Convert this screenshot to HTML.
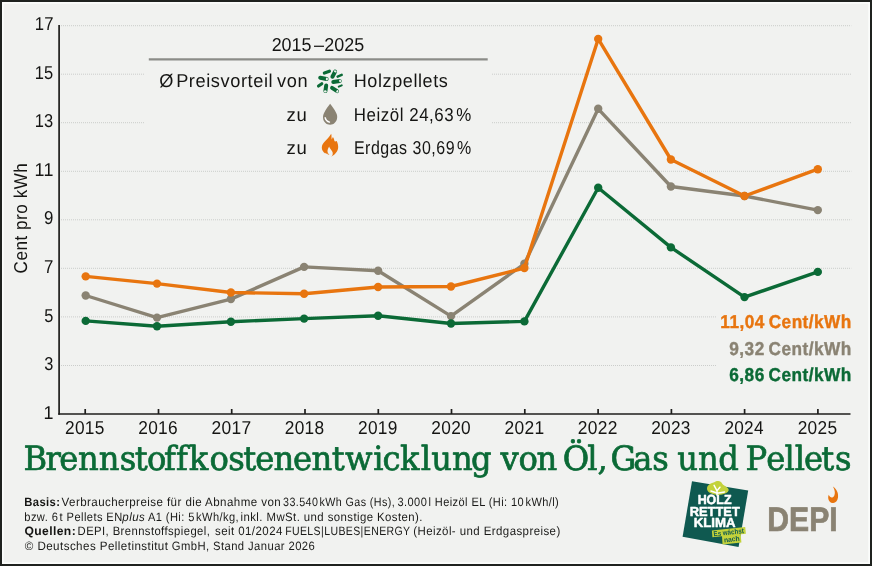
<!DOCTYPE html>
<html lang="de">
<head>
<meta charset="utf-8">
<title>Brennstoffkostenentwicklung von Öl, Gas und Pellets</title>
<style>
html,body{margin:0;padding:0;background:#f1f2f0;}
body{width:872px;height:566px;overflow:hidden;font-family:"Liberation Sans",sans-serif;}
svg{display:block;}
</style>
</head>
<body>
<svg width="872" height="566" viewBox="0 0 872 566" text-rendering="geometricPrecision">
<rect x="0" y="0" width="872" height="566" fill="#1f221f"/>
<rect x="2" y="2" width="868" height="562" fill="#fbfcfb"/>
<rect x="3.8" y="3.8" width="864.4" height="558.4" fill="#f1f2f0"/>
<line x1="61" y1="25.7" x2="851.3" y2="25.7" stroke="#cbcdcb" stroke-width="1" stroke-dasharray="1 1"/>
<line x1="61" y1="74.2" x2="144" y2="74.2" stroke="#cbcdcb" stroke-width="1" stroke-dasharray="1 1"/>
<line x1="492" y1="74.2" x2="851.3" y2="74.2" stroke="#cbcdcb" stroke-width="1" stroke-dasharray="1 1"/>
<line x1="61" y1="122.7" x2="144" y2="122.7" stroke="#cbcdcb" stroke-width="1" stroke-dasharray="1 1"/>
<line x1="492" y1="122.7" x2="851.3" y2="122.7" stroke="#cbcdcb" stroke-width="1" stroke-dasharray="1 1"/>
<line x1="61" y1="171.3" x2="851.3" y2="171.3" stroke="#cbcdcb" stroke-width="1" stroke-dasharray="1 1"/>
<line x1="61" y1="219.8" x2="851.3" y2="219.8" stroke="#cbcdcb" stroke-width="1" stroke-dasharray="1 1"/>
<line x1="61" y1="268.3" x2="851.3" y2="268.3" stroke="#cbcdcb" stroke-width="1" stroke-dasharray="1 1"/>
<line x1="61" y1="316.9" x2="716" y2="316.9" stroke="#cbcdcb" stroke-width="1" stroke-dasharray="1 1"/>
<line x1="61" y1="365.5" x2="716" y2="365.5" stroke="#cbcdcb" stroke-width="1" stroke-dasharray="1 1"/>
<line x1="59.1" y1="25" x2="59.1" y2="414.7" stroke="#1e1e1c" stroke-width="1.7"/>
<line x1="58.25" y1="414.0" x2="850.5" y2="414.0" stroke="#1e1e1c" stroke-width="1.5"/>
<line x1="85.2" y1="409.0" x2="85.2" y2="414" stroke="#1e1e1c" stroke-width="1.7"/>
<line x1="158.5" y1="409.0" x2="158.5" y2="414" stroke="#1e1e1c" stroke-width="1.7"/>
<line x1="231.7" y1="409.0" x2="231.7" y2="414" stroke="#1e1e1c" stroke-width="1.7"/>
<line x1="305.0" y1="409.0" x2="305.0" y2="414" stroke="#1e1e1c" stroke-width="1.7"/>
<line x1="378.3" y1="409.0" x2="378.3" y2="414" stroke="#1e1e1c" stroke-width="1.7"/>
<line x1="451.5" y1="409.0" x2="451.5" y2="414" stroke="#1e1e1c" stroke-width="1.7"/>
<line x1="524.8" y1="409.0" x2="524.8" y2="414" stroke="#1e1e1c" stroke-width="1.7"/>
<line x1="598.1" y1="409.0" x2="598.1" y2="414" stroke="#1e1e1c" stroke-width="1.7"/>
<line x1="671.4" y1="409.0" x2="671.4" y2="414" stroke="#1e1e1c" stroke-width="1.7"/>
<line x1="744.6" y1="409.0" x2="744.6" y2="414" stroke="#1e1e1c" stroke-width="1.7"/>
<line x1="817.9" y1="409.0" x2="817.9" y2="414" stroke="#1e1e1c" stroke-width="1.7"/>
<polyline points="85.7,295.5 157.0,317.6 230.9,299.1 304.1,266.9 378.1,270.7 451.0,316.1 524.4,263.8 598.2,108.8 670.9,186.5 744.5,196.0 817.8,210.1" fill="none" stroke="#8a8373" stroke-width="3.4" stroke-linejoin="round" stroke-linecap="round"/>
<circle cx="85.7" cy="295.5" r="4.2" fill="#8a8373"/><circle cx="157.0" cy="317.6" r="4.2" fill="#8a8373"/><circle cx="230.9" cy="299.1" r="4.2" fill="#8a8373"/><circle cx="304.1" cy="266.9" r="4.2" fill="#8a8373"/><circle cx="378.1" cy="270.7" r="4.2" fill="#8a8373"/><circle cx="451.0" cy="316.1" r="4.2" fill="#8a8373"/><circle cx="524.4" cy="263.8" r="4.2" fill="#8a8373"/><circle cx="598.2" cy="108.8" r="4.2" fill="#8a8373"/><circle cx="670.9" cy="186.5" r="4.2" fill="#8a8373"/><circle cx="744.5" cy="196.0" r="4.2" fill="#8a8373"/><circle cx="817.8" cy="210.1" r="4.2" fill="#8a8373"/>

<polyline points="85.7,320.9 157.0,326.3 230.9,321.7 304.1,318.6 378.1,315.7 451.0,323.5 524.4,321.4 598.2,187.7 670.9,247.4 744.5,297.1 817.8,271.9" fill="none" stroke="#0b6a36" stroke-width="3.4" stroke-linejoin="round" stroke-linecap="round"/>
<circle cx="85.7" cy="320.9" r="4.2" fill="#0b6a36"/><circle cx="157.0" cy="326.3" r="4.2" fill="#0b6a36"/><circle cx="230.9" cy="321.7" r="4.2" fill="#0b6a36"/><circle cx="304.1" cy="318.6" r="4.2" fill="#0b6a36"/><circle cx="378.1" cy="315.7" r="4.2" fill="#0b6a36"/><circle cx="451.0" cy="323.5" r="4.2" fill="#0b6a36"/><circle cx="524.4" cy="321.4" r="4.2" fill="#0b6a36"/><circle cx="598.2" cy="187.7" r="4.2" fill="#0b6a36"/><circle cx="670.9" cy="247.4" r="4.2" fill="#0b6a36"/><circle cx="744.5" cy="297.1" r="4.2" fill="#0b6a36"/><circle cx="817.8" cy="271.9" r="4.2" fill="#0b6a36"/>

<polyline points="85.7,276.4 157.0,283.6 230.9,292.5 304.1,293.8 378.1,287.0 451.0,286.5 524.4,268.0 598.2,38.9 670.9,159.5 744.5,196.0 817.8,169.2" fill="none" stroke="#e8750f" stroke-width="3.4" stroke-linejoin="round" stroke-linecap="round"/>
<circle cx="85.7" cy="276.4" r="4.2" fill="#e8750f"/><circle cx="157.0" cy="283.6" r="4.2" fill="#e8750f"/><circle cx="230.9" cy="292.5" r="4.2" fill="#e8750f"/><circle cx="304.1" cy="293.8" r="4.2" fill="#e8750f"/><circle cx="378.1" cy="287.0" r="4.2" fill="#e8750f"/><circle cx="451.0" cy="286.5" r="4.2" fill="#e8750f"/><circle cx="524.4" cy="268.0" r="4.2" fill="#e8750f"/><circle cx="598.2" cy="38.9" r="4.2" fill="#e8750f"/><circle cx="670.9" cy="159.5" r="4.2" fill="#e8750f"/><circle cx="744.5" cy="196.0" r="4.2" fill="#e8750f"/><circle cx="817.8" cy="169.2" r="4.2" fill="#e8750f"/>

<line x1="148.8" y1="59.4" x2="487.7" y2="59.4" stroke="#8b8c88" stroke-width="2.2"/>
<g>
<line x1="324.4" y1="73.0" x2="329.4" y2="71.3" stroke="#0b6a36" stroke-width="3.3" stroke-linecap="round"/>
<line x1="332.4" y1="76.7" x2="335.1" y2="71.6" stroke="#0b6a36" stroke-width="4.0" stroke-linecap="round"/><ellipse cx="335.24" cy="71.33" rx="1.04" ry="1.44" transform="rotate(-62.1 335.24 71.33)" fill="#eef3ee"/>
<line x1="337.6" y1="76.6" x2="341.7" y2="74.9" stroke="#0b6a36" stroke-width="2.5" stroke-linecap="round"/>
<line x1="320.2" y1="77.7" x2="326.6" y2="79.0" stroke="#0b6a36" stroke-width="4.0" stroke-linecap="round"/><ellipse cx="326.89" cy="79.06" rx="1.04" ry="1.44" transform="rotate(11.5 326.89 79.06)" fill="#eef3ee"/>
<line x1="333.2" y1="82.0" x2="339.8" y2="81.0" stroke="#0b6a36" stroke-width="3.8" stroke-linecap="round"/><ellipse cx="340.10" cy="80.96" rx="0.99" ry="1.37" transform="rotate(-8.6 340.10 80.96)" fill="#eef3ee"/>
<line x1="318.5" y1="86.0" x2="321.8" y2="83.7" stroke="#0b6a36" stroke-width="3.1" stroke-linecap="round"/>
<line x1="326.2" y1="85.5" x2="325.4" y2="91.1" stroke="#0b6a36" stroke-width="4.0" stroke-linecap="round"/><ellipse cx="325.36" cy="91.40" rx="1.04" ry="1.44" transform="rotate(98.1 325.36 91.40)" fill="#eef3ee"/>
<line x1="332.0" y1="87.8" x2="337.1" y2="91.2" stroke="#0b6a36" stroke-width="3.8" stroke-linecap="round"/><ellipse cx="337.35" cy="91.37" rx="0.99" ry="1.37" transform="rotate(33.7 337.35 91.37)" fill="#eef3ee"/>
<line x1="338.8" y1="86.6" x2="341.7" y2="85.4" stroke="#0b6a36" stroke-width="2.1" stroke-linecap="round"/>
</g>
<path d="M 330.11 103.82 C 331.64 105.63 334.46 109.31 336.33 113.26 C 337.18 114.96 337.35 116.65 337.12 117.90 C 336.61 121.86 333.79 124.63 330.11 124.63 C 326.44 124.63 323.38 121.86 323.04 117.90 C 322.88 116.20 323.33 114.51 324.18 112.81 C 325.98 109.31 328.70 105.63 330.11 103.82 Z" fill="#8a8373"/>
<path d="M 325.19 117.79 C 325.64 119.82 327.34 121.52 329.49 122.14" fill="none" stroke="#ffffff" stroke-width="1.4" stroke-linecap="round"/>
<path d="M 331.17 133.76 C 331.77 135.50 331.29 137.60 331.77 139.40 C 332.07 138.56 332.43 137.72 332.91 136.88 C 333.93 138.32 334.29 139.70 334.53 141.33 C 335.25 141.57 335.97 141.45 336.69 141.09 C 337.83 143.49 338.43 146.01 338.13 148.11 C 337.77 151.41 335.01 154.83 331.29 156.69 C 332.85 155.13 333.21 153.21 332.25 151.41 C 331.29 149.73 329.73 148.71 329.13 146.61 C 328.17 148.71 326.97 150.51 327.69 152.49 C 328.05 153.33 328.65 154.05 329.49 154.83 L 327.81 154.47 L 327.27 153.45 L 326.48 153.99 L 326.00 152.67 L 325.22 153.51 C 323.00 152.01 321.74 149.91 321.80 147.51 C 321.86 145.53 322.88 143.73 324.32 142.11 C 326.30 139.70 329.61 137.00 331.17 133.76 Z" fill="#e8750f"/>
<polygon points="692,481.3 748.2,490.6 738.6,546.9 682.6,536.8" fill="#0f5950"/>
<path d="M 707.00 488.72 C 707.00 487.03 707.63 485.97 708.69 484.99 C 710.18 483.63 712.30 482.79 714.21 482.28 C 715.69 481.30 716.96 481.00 718.32 481.09 C 719.93 481.17 721.42 482.15 722.26 483.63 C 723.11 485.12 725.23 485.84 727.14 487.45 C 728.41 488.51 729.05 489.57 728.50 490.84 C 727.78 492.54 725.45 493.60 722.05 494.58 C 719.93 495.08 716.96 495.08 714.21 494.49 C 711.24 493.81 708.48 492.54 707.63 490.84 C 707.21 489.99 707.00 489.36 707.00 488.72 Z" fill="#c3d23b"/>
<path d="M 716.96 495.08 L 717.05 490.21 M 717.05 490.84 L 714.08 485.41 M 717.13 490.63 L 719.93 487.20 M 716.88 493.05 L 710.94 491.01 M 717.13 493.30 L 724.51 491.95" fill="none" stroke="#ffffff" stroke-width="1.5" stroke-linecap="round"/>
<polygon points="711.9,530.6 745.2,527.0 745.9,533.8 712.4,537.3" fill="#c3d23b"/>
<polygon points="722,535.8 740.6,533.8 741.4,542.4 722.5,544.4" fill="#c3d23b"/>
<path d="M832.9 486.5 C 836.8 489.0, 838.6 493.4, 838.0 497.4 C 837.5 500.6, 835.6 502.8, 833.2 503.0 C 830.4 503.2, 828.4 501.0, 828.2 498.0 C 828.1 496.8, 828.3 495.8, 828.8 494.8 C 829.6 496.8, 831.0 497.8, 832.4 497.4 C 834.2 496.8, 835.0 494.6, 834.8 492.0 C 834.6 490.0, 833.8 488.0, 832.9 486.5 Z" fill="#e8750f"/>
<text transform="translate(0 470.2) scale(0.965 1)" x="24.35 47.07 61.52 80.83 102.29 124.20 139.71 152.41 170.07 182.35 195.67 217.08 236.48 252.05 264.48 283.32 303.60 322.80 343.76 357.59 386.71 396.32 414.53 435.92 446.78 468.40 488.05 511.40 518.71 537.23 556.07 580.00 583.04 608.51 619.27 630.26 632.60 656.21 675.81 695.44 701.91 723.22 744.32 768.81 772.44 794.11 812.86 823.49 833.08 851.11 865.34" y="0" font-size="33.4" font-family="'DejaVu Serif', 'Liberation Serif', serif" fill="#0b6a36" stroke="#0b6a36" stroke-width="0.7" stroke-linejoin="round">Brennstoffkostenentwicklung von Öl, Gas und Pellets</text>
<text transform="translate(0 50.8) scale(0.9646 1)" y="0" font-size="18.6" font-family="'Liberation Sans', sans-serif" fill="#151513"><tspan x="281.62">2015</tspan> <tspan x="325.43">–</tspan> <tspan x="336.25">2025</tspan></text>
<text transform="translate(0 86.6) scale(0.9786 1)" y="0" font-size="18.6" font-family="'Liberation Sans', sans-serif" letter-spacing="0.6" fill="#151513"><tspan x="162.65">Ø</tspan> <tspan x="179.99">Preisvorteil</tspan> <tspan x="283.12">von</tspan></text>
<text transform="translate(34.65 30.30) scale(0.8973 1.0000)" font-size="18.6" font-family="'Liberation Sans', sans-serif" letter-spacing="0.3" fill="#151513">17</text>
<text transform="translate(34.67 78.80) scale(0.8853 1.0000)" font-size="18.6" font-family="'Liberation Sans', sans-serif" letter-spacing="0.3" fill="#151513">15</text>
<text transform="translate(34.67 127.30) scale(0.8853 1.0000)" font-size="18.6" font-family="'Liberation Sans', sans-serif" letter-spacing="0.3" fill="#151513">13</text>
<text transform="translate(34.56 175.90) scale(0.9623 1.0000)" font-size="18.6" font-family="'Liberation Sans', sans-serif" letter-spacing="0.3" fill="#151513">11</text>
<text transform="translate(43.99 224.40) scale(0.9059 1.0000)" font-size="18.6" font-family="'Liberation Sans', sans-serif" letter-spacing="0.3" fill="#151513">9</text>
<text transform="translate(43.99 272.90) scale(0.9059 1.0000)" font-size="18.6" font-family="'Liberation Sans', sans-serif" letter-spacing="0.3" fill="#151513">7</text>
<text transform="translate(44.24 321.50) scale(0.8800 1.0000)" font-size="18.6" font-family="'Liberation Sans', sans-serif" letter-spacing="0.3" fill="#151513">5</text>
<text transform="translate(44.24 370.10) scale(0.8800 1.0000)" font-size="18.6" font-family="'Liberation Sans', sans-serif" letter-spacing="0.3" fill="#151513">3</text>
<text transform="translate(43.46 418.60) scale(0.9625 1.0000)" font-size="18.6" font-family="'Liberation Sans', sans-serif" letter-spacing="0.3" fill="#151513">1</text>
<text transform="translate(64.97 433.60) scale(0.9309 1.0000)" font-size="18.6" font-family="'Liberation Sans', sans-serif" letter-spacing="0.3" fill="#151513">2015</text>
<text transform="translate(138.24 433.60) scale(0.9309 1.0000)" font-size="18.6" font-family="'Liberation Sans', sans-serif" letter-spacing="0.3" fill="#151513">2016</text>
<text transform="translate(211.50 433.60) scale(0.9366 1.0000)" font-size="18.6" font-family="'Liberation Sans', sans-serif" letter-spacing="0.3" fill="#151513">2017</text>
<text transform="translate(284.78 433.60) scale(0.9309 1.0000)" font-size="18.6" font-family="'Liberation Sans', sans-serif" letter-spacing="0.3" fill="#151513">2018</text>
<text transform="translate(358.05 433.60) scale(0.9309 1.0000)" font-size="18.6" font-family="'Liberation Sans', sans-serif" letter-spacing="0.3" fill="#151513">2019</text>
<text transform="translate(431.32 433.60) scale(0.9309 1.0000)" font-size="18.6" font-family="'Liberation Sans', sans-serif" letter-spacing="0.3" fill="#151513">2020</text>
<text transform="translate(504.58 433.60) scale(0.9366 1.0000)" font-size="18.6" font-family="'Liberation Sans', sans-serif" letter-spacing="0.3" fill="#151513">2021</text>
<text transform="translate(577.85 433.60) scale(0.9366 1.0000)" font-size="18.6" font-family="'Liberation Sans', sans-serif" letter-spacing="0.3" fill="#151513">2022</text>
<text transform="translate(651.13 433.60) scale(0.9309 1.0000)" font-size="18.6" font-family="'Liberation Sans', sans-serif" letter-spacing="0.3" fill="#151513">2023</text>
<text transform="translate(724.40 433.60) scale(0.9252 1.0000)" font-size="18.6" font-family="'Liberation Sans', sans-serif" letter-spacing="0.3" fill="#151513">2024</text>
<text transform="translate(797.67 433.60) scale(0.9309 1.0000)" font-size="18.6" font-family="'Liberation Sans', sans-serif" letter-spacing="0.3" fill="#151513">2025</text>
<text transform="translate(27.0 272.8) rotate(-90) translate(-0.62 0.00) scale(0.9169 1.0000)" font-size="18.6" font-family="'Liberation Sans', sans-serif" letter-spacing="0.6" fill="#151513">Cent pro kWh</text>
<text transform="translate(353.75 86.60) scale(0.9699 1.0000)" font-size="18.6" font-family="'Liberation Sans', sans-serif" letter-spacing="0.6" fill="#151513">Holzpellets</text>
<text transform="translate(286.55 120.50) scale(0.9973 1.0000)" font-size="18.6" font-family="'Liberation Sans', sans-serif" letter-spacing="0.6" fill="#151513">zu</text>
<text transform="translate(353.84 120.50) scale(0.9079 1.0000)" font-size="18.6" font-family="'Liberation Sans', sans-serif" letter-spacing="0.6" fill="#151513">Heizöl 24,63 %</text>
<text transform="translate(286.55 154.10) scale(0.9973 1.0000)" font-size="18.6" font-family="'Liberation Sans', sans-serif" letter-spacing="0.6" fill="#151513">zu</text>
<text transform="translate(353.91 154.10) scale(0.8588 1.0000)" font-size="18.6" font-family="'Liberation Sans', sans-serif" letter-spacing="0.6" fill="#151513">Erdgas 30,69 %</text>
<text transform="translate(720.34 327.70) scale(0.9259 1.0000)" font-size="18.6" font-family="'Liberation Sans', sans-serif" font-weight="bold" letter-spacing="0.5" fill="#e8750f" stroke="#e8750f" stroke-width="0.4">11,04 Cent/kWh</text>
<text transform="translate(729.31 354.90) scale(0.9264 1.0000)" font-size="18.6" font-family="'Liberation Sans', sans-serif" font-weight="bold" letter-spacing="0.5" fill="#8a8373" stroke="#8a8373" stroke-width="0.4">9,32 Cent/kWh</text>
<text transform="translate(729.31 380.60) scale(0.9264 1.0000)" font-size="18.6" font-family="'Liberation Sans', sans-serif" font-weight="bold" letter-spacing="0.5" fill="#0b6a36" stroke="#0b6a36" stroke-width="0.4">6,86 Cent/kWh</text>
<text transform="translate(24.30 506.25) scale(0.9297 1.0000)" font-size="12.1" font-family="'Liberation Sans', sans-serif" font-weight="bold" letter-spacing="0.4" fill="#151513">Basis:</text>
<text transform="translate(61.51 506.25) scale(0.9562 1.0000)" font-size="12.1" font-family="'Liberation Sans', sans-serif" letter-spacing="0.45" fill="#1a1a18">Verbraucherpreise für die Abnahme von</text>
<text transform="translate(283.06 506.25) scale(0.8869 1.0000)" font-size="12.1" font-family="'Liberation Sans', sans-serif" letter-spacing="0.45" fill="#1a1a18">33.540 kWh Gas (Hs),</text>
<text transform="translate(397.54 506.25) scale(0.9117 1.0000)" font-size="12.1" font-family="'Liberation Sans', sans-serif" letter-spacing="0.45" fill="#1a1a18">3.000 l Heizöl EL (Hi: 10 kWh/l)</text>
<text transform="translate(24.31 520.50) scale(0.9184 1.0000)" font-size="12.1" font-family="'Liberation Sans', sans-serif" letter-spacing="0.45" fill="#1a1a18">bzw. 6 t Pellets EN</text>
<text transform="translate(122.34 520.50) scale(0.9532 1.0000)" font-size="12.1" font-family="'Liberation Sans', sans-serif" letter-spacing="0.45" font-style="italic" fill="#1a1a18">plus</text>
<text transform="translate(148.00 520.50) scale(0.9156 1.0000)" font-size="12.1" font-family="'Liberation Sans', sans-serif" letter-spacing="0.45" fill="#1a1a18">A1 (Hi: 5 kWh/kg,</text>
<text transform="translate(240.54 520.50) scale(0.9414 1.0000)" font-size="12.1" font-family="'Liberation Sans', sans-serif" letter-spacing="0.45" fill="#1a1a18">inkl. MwSt. und sonstige Kosten).</text>
<text transform="translate(24.50 535.00) scale(1.0000 1.0000)" font-size="12.1" font-family="'Liberation Sans', sans-serif" font-weight="bold" letter-spacing="0.4" fill="#151513">Quellen:</text>
<text transform="translate(77.57 535.00) scale(0.9320 1.0000)" font-size="12.1" font-family="'Liberation Sans', sans-serif" letter-spacing="0.45" fill="#1a1a18">DEPI, Brennstoffspiegel,</text>
<text transform="translate(215.03 535.00) scale(0.9500 1.0000)" font-size="12.1" font-family="'Liberation Sans', sans-serif" letter-spacing="0.45" fill="#1a1a18">seit 01/2024</text>
<text transform="translate(285.13 535.00) scale(0.8703 1.0000)" font-size="12.1" font-family="'Liberation Sans', sans-serif" letter-spacing="0.45" fill="#1a1a18">FUELS|LUBES|ENERGY</text>
<text transform="translate(413.19 535.00) scale(0.9479 1.0000)" font-size="12.1" font-family="'Liberation Sans', sans-serif" letter-spacing="0.45" fill="#1a1a18">(Heizöl- und Erdgaspreise)</text>
<text transform="translate(24.76 549.50) scale(0.9597 1.0000)" font-size="12.1" font-family="'Liberation Sans', sans-serif" letter-spacing="0.45" fill="#1a1a18">© Deutsches Pelletinstitut</text>
<text transform="translate(171.79 549.50) scale(0.9300 1.0000)" font-size="12.1" font-family="'Liberation Sans', sans-serif" letter-spacing="0.45" fill="#1a1a18">GmbH, Stand Januar 2026</text>
<text transform="translate(697.65 504.30) scale(0.9489 1.0000)" font-size="13.1" font-family="'Liberation Sans', sans-serif" font-weight="bold" fill="#ffffff" stroke="#ffffff" stroke-width="0.5" stroke-linejoin="round">HOLZ</text>
<text transform="translate(689.72 515.90) scale(0.9829 1.0000)" font-size="13.1" font-family="'Liberation Sans', sans-serif" font-weight="bold" fill="#ffffff" stroke="#ffffff" stroke-width="0.5" stroke-linejoin="round">RETTET</text>
<text transform="translate(693.69 527.20) scale(1.0100 1.0000)" font-size="13.1" font-family="'Liberation Sans', sans-serif" font-weight="bold" fill="#ffffff" stroke="#ffffff" stroke-width="0.5" stroke-linejoin="round">KLIMA</text>
<text transform="translate(714.2 536.3) rotate(-6.2) translate(-0.43 0.00) scale(0.8638 1.0000)" font-size="7.2" font-family="'Liberation Sans', sans-serif" font-weight="bold" fill="#0f5950">Es wächst</text>
<text transform="translate(724.6 542.4) rotate(-6.2) translate(-0.47 0.00) scale(0.9397 1.0000)" font-size="7.2" font-family="'Liberation Sans', sans-serif" font-weight="bold" fill="#0f5950">nach</text>
<text transform="translate(767.30 531.00) scale(0.8870 1.0000)" font-size="34.0" font-family="'Liberation Sans', sans-serif" font-weight="bold" fill="#8a8373" stroke="#8a8373" stroke-width="0.7">DEPI</text>
</svg>
</body>
</html>
